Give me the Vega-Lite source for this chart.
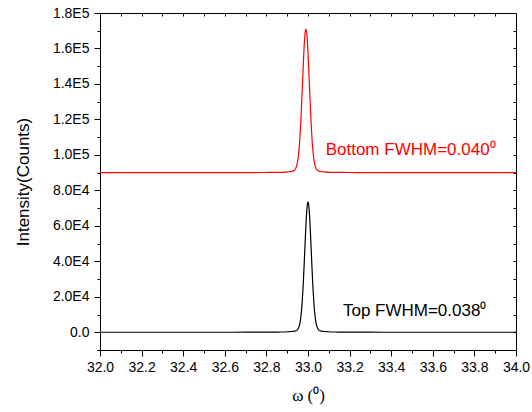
{
  "$schema": "https://vega.github.io/schema/vega-lite/v6.json",
  "width": 416,
  "height": 337,
  "autosize": {"type": "none"},
  "padding": {"left": 100, "top": 13, "right": 16, "bottom": 62},
  "background": "white",
  "config": {
    "view": {"stroke": "#000000", "strokeWidth": 1},
    "axis": {"grid": false, "labelFont": "Liberation Sans", "labelFontSize": 14, "labelColor": "#000000", "tickColor": "#000000", "domainColor": "#000000", "titleColor": "#000000", "titleFontWeight": "normal", "labelFlush": false, "labelOverlap": false}
  },
  "datasets": {
    "scan": [
      {"series": "Bottom", "omega": 32.0, "intensity": 90000},
      {"series": "Bottom", "omega": 32.49, "intensity": 90010},
      {"series": "Bottom", "omega": 32.69, "intensity": 90040},
      {"series": "Bottom", "omega": 32.79, "intensity": 90080},
      {"series": "Bottom", "omega": 32.84, "intensity": 90140},
      {"series": "Bottom", "omega": 32.89, "intensity": 90310},
      {"series": "Bottom", "omega": 32.91, "intensity": 90480},
      {"series": "Bottom", "omega": 32.93, "intensity": 90960},
      {"series": "Bottom", "omega": 32.94, "intensity": 92070},
      {"series": "Bottom", "omega": 32.95, "intensity": 96160},
      {"series": "Bottom", "omega": 32.955, "intensity": 100770},
      {"series": "Bottom", "omega": 32.96, "intensity": 107820},
      {"series": "Bottom", "omega": 32.965, "intensity": 117860},
      {"series": "Bottom", "omega": 32.97, "intensity": 130500},
      {"series": "Bottom", "omega": 32.975, "intensity": 144510},
      {"series": "Bottom", "omega": 32.98, "intensity": 157800},
      {"series": "Bottom", "omega": 32.985, "intensity": 167440},
      {"series": "Bottom", "omega": 32.99, "intensity": 171000},
      {"series": "Bottom", "omega": 32.995, "intensity": 167440},
      {"series": "Bottom", "omega": 33.0, "intensity": 157800},
      {"series": "Bottom", "omega": 33.005, "intensity": 144510},
      {"series": "Bottom", "omega": 33.01, "intensity": 130500},
      {"series": "Bottom", "omega": 33.015, "intensity": 117860},
      {"series": "Bottom", "omega": 33.02, "intensity": 107820},
      {"series": "Bottom", "omega": 33.025, "intensity": 100770},
      {"series": "Bottom", "omega": 33.03, "intensity": 96160},
      {"series": "Bottom", "omega": 33.04, "intensity": 92070},
      {"series": "Bottom", "omega": 33.05, "intensity": 90960},
      {"series": "Bottom", "omega": 33.07, "intensity": 90480},
      {"series": "Bottom", "omega": 33.09, "intensity": 90310},
      {"series": "Bottom", "omega": 33.14, "intensity": 90140},
      {"series": "Bottom", "omega": 33.19, "intensity": 90080},
      {"series": "Bottom", "omega": 33.29, "intensity": 90040},
      {"series": "Bottom", "omega": 33.49, "intensity": 90010},
      {"series": "Bottom", "omega": 34.0, "intensity": 90000},
      {"series": "Top", "omega": 32.0, "intensity": 0},
      {"series": "Top", "omega": 32.525, "intensity": 10},
      {"series": "Top", "omega": 32.715, "intensity": 30},
      {"series": "Top", "omega": 32.81, "intensity": 70},
      {"series": "Top", "omega": 32.8575, "intensity": 130},
      {"series": "Top", "omega": 32.905, "intensity": 280},
      {"series": "Top", "omega": 32.924, "intensity": 430},
      {"series": "Top", "omega": 32.943, "intensity": 870},
      {"series": "Top", "omega": 32.9525, "intensity": 1880},
      {"series": "Top", "omega": 32.962, "intensity": 5590},
      {"series": "Top", "omega": 32.96675, "intensity": 9780},
      {"series": "Top", "omega": 32.9715, "intensity": 16170},
      {"series": "Top", "omega": 32.97625, "intensity": 25280},
      {"series": "Top", "omega": 32.981, "intensity": 36750},
      {"series": "Top", "omega": 32.98575, "intensity": 49470},
      {"series": "Top", "omega": 32.9905, "intensity": 61520},
      {"series": "Top", "omega": 32.99525, "intensity": 70270},
      {"series": "Top", "omega": 33.0, "intensity": 73500},
      {"series": "Top", "omega": 33.00475, "intensity": 70270},
      {"series": "Top", "omega": 33.0095, "intensity": 61520},
      {"series": "Top", "omega": 33.01425, "intensity": 49470},
      {"series": "Top", "omega": 33.019, "intensity": 36750},
      {"series": "Top", "omega": 33.02375, "intensity": 25280},
      {"series": "Top", "omega": 33.0285, "intensity": 16170},
      {"series": "Top", "omega": 33.03325, "intensity": 9780},
      {"series": "Top", "omega": 33.038, "intensity": 5590},
      {"series": "Top", "omega": 33.0475, "intensity": 1880},
      {"series": "Top", "omega": 33.057, "intensity": 870},
      {"series": "Top", "omega": 33.076, "intensity": 430},
      {"series": "Top", "omega": 33.095, "intensity": 280},
      {"series": "Top", "omega": 33.1425, "intensity": 130},
      {"series": "Top", "omega": 33.19, "intensity": 70},
      {"series": "Top", "omega": 33.285, "intensity": 30},
      {"series": "Top", "omega": 33.475, "intensity": 10},
      {"series": "Top", "omega": 34.0, "intensity": 0}
    ],
    "notes": [
      {"series": "Bottom", "label": "Bottom FWHM=0.040⁰", "omega": 33.085, "intensity": 102600},
      {"series": "Top", "label": "Top FWHM=0.038⁰", "omega": 33.168, "intensity": 12000}
    ]
  },
  "resolve": {"axis": {"x": "independent", "y": "independent"}},
  "layer": [
    {
      "data": {"name": "scan"},
      "mark": {"type": "line", "opacity": 0},
      "encoding": {
        "x": {"field": "omega", "type": "quantitative", "scale": {"domain": [32, 34], "nice": false, "zero": false},
          "axis": {"orient": "bottom", "values": [32.1, 32.3, 32.5, 32.7, 32.9, 33.1, 33.3, 33.5, 33.7, 33.9], "tickSize": 3, "labels": false, "domain": false, "title": null}},
        "y": {"field": "intensity", "type": "quantitative", "scale": {"domain": [-10000, 180000], "nice": false, "zero": false},
          "axis": {"orient": "left", "values": [-10000, 10000, 30000, 50000, 70000, 90000, 110000, 130000, 150000, 170000], "tickSize": 3, "labels": false, "domain": false, "title": null}}
      }
    },
    {
      "data": {"name": "scan"},
      "mark": {"type": "line", "opacity": 0},
      "encoding": {
        "x": {"field": "omega", "type": "quantitative", "scale": {"domain": [32, 34], "nice": false, "zero": false},
          "axis": {"orient": "top", "values": [32.1, 32.2, 32.3, 32.4, 32.5, 32.6, 32.7, 32.8, 32.9, 33.0, 33.1, 33.2, 33.3, 33.4, 33.5, 33.6, 33.7, 33.8, 33.9], "tickSize": -3, "labels": false, "domain": false, "title": null}},
        "y": {"field": "intensity", "type": "quantitative", "scale": {"domain": [-10000, 180000], "nice": false, "zero": false},
          "axis": {"orient": "right", "values": [0, 10000, 20000, 30000, 40000, 50000, 60000, 70000, 80000, 90000, 100000, 110000, 120000, 130000, 140000, 150000, 160000, 170000], "tickSize": -3, "labels": false, "domain": false, "title": null}}
      }
    },
    {
      "data": {"name": "scan"},
      "mark": {"type": "line", "strokeWidth": 1.2, "interpolate": "monotone"},
      "encoding": {
        "x": {"field": "omega", "type": "quantitative", "scale": {"domain": [32, 34], "nice": false, "zero": false},
          "axis": {"orient": "bottom", "values": [32.0, 32.2, 32.4, 32.6, 32.8, 33.0, 33.2, 33.4, 33.6, 33.8, 34.0], "format": ".1f", "tickSize": 6, "labelPadding": 4, "domain": false,
            "title": "ω (⁰)", "titleFont": "Liberation Serif", "titleFontSize": 17, "titlePadding": 13}},
        "y": {"field": "intensity", "type": "quantitative", "scale": {"domain": [-10000, 180000], "nice": false, "zero": false},
          "axis": {"orient": "left", "values": [0, 20000, 40000, 60000, 80000, 100000, 120000, 140000, 160000, 180000], "tickSize": 6, "labelPadding": 5, "domain": false,
            "labelExpr": "datum.value == 0 ? '0.0' : replace(format(datum.value, '.1e'), 'e+', 'E')",
            "title": "Intensity(Counts)", "titleFont": "Liberation Sans", "titleFontSize": 17, "titlePadding": 20}},
        "color": {"field": "series", "type": "nominal", "scale": {"domain": ["Bottom", "Top"], "range": ["#ff0000", "#000000"]}, "legend": null},
        "detail": {"field": "series"}
      }
    },
    {
      "data": {"name": "notes"},
      "mark": {"type": "text", "align": "left", "baseline": "middle", "font": "Liberation Sans", "fontSize": 17},
      "encoding": {
        "x": {"field": "omega", "type": "quantitative", "scale": {"domain": [32, 34], "nice": false, "zero": false}, "axis": null},
        "y": {"field": "intensity", "type": "quantitative", "scale": {"domain": [-10000, 180000], "nice": false, "zero": false}, "axis": null},
        "text": {"field": "label"},
        "color": {"field": "series", "type": "nominal", "scale": {"domain": ["Bottom", "Top"], "range": ["#ff0000", "#000000"]}, "legend": null}
      }
    }
  ]
}
